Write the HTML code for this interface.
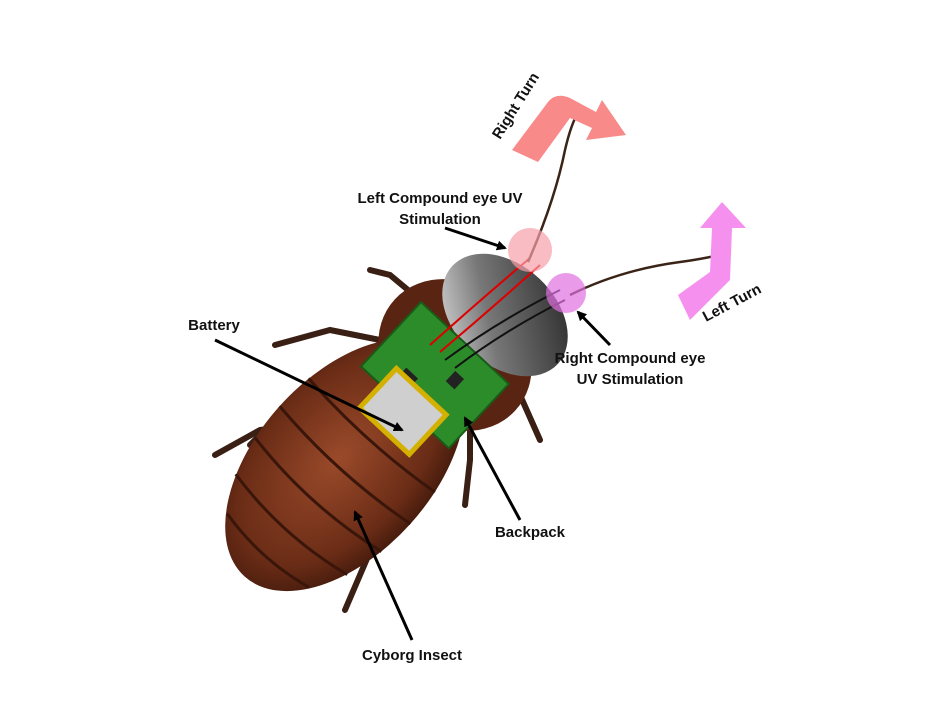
<!DOCTYPE html>
<html><head><meta charset="utf-8"><style>
html,body{margin:0;padding:0;background:#fff;}
svg{display:block;}
text{font-family:"Liberation Sans",sans-serif;font-weight:bold;font-size:15px;fill:#111;}
</style></head><body>
<svg width="934" height="701" viewBox="0 0 934 701" xmlns="http://www.w3.org/2000/svg">
<defs>
<marker id="ah" markerWidth="10" markerHeight="10" refX="8" refY="5" orient="auto" markerUnits="userSpaceOnUse">
<path d="M0,0 L10,5 L0,10 z" fill="#000"/></marker>
<radialGradient id="bod" cx="50%" cy="45%" r="60%"><stop offset="0" stop-color="#9a4a2a"/><stop offset="0.7" stop-color="#6a2c16"/><stop offset="1" stop-color="#3a160a"/></radialGradient>
<linearGradient id="shield" x1="0" y1="0" x2="1" y2="1"><stop offset="0" stop-color="#e8e8e8"/><stop offset="0.4" stop-color="#777"/><stop offset="1" stop-color="#222"/></linearGradient>
</defs>
<g stroke="#3a1f14" stroke-width="6" fill="none" stroke-linecap="round">
<path d="M420,300 L390,275 L370,270"/>
<path d="M380,340 L330,330 L275,345"/>
<path d="M350,380 L300,395 L250,445"/>
<path d="M330,420 L260,430 L215,455"/>
<path d="M320,460 L270,490 L245,510"/>
<path d="M480,390 L520,395 L540,440"/>
<path d="M470,420 L470,460 L465,505"/>
<path d="M400,490 L375,540 L345,610"/>
</g>
<g transform="translate(345,465) rotate(-48)">
<ellipse cx="0" cy="0" rx="150" ry="88" fill="url(#bod)"/>
<g stroke="#3a160a" stroke-width="3" fill="none">
<path d="M-40,-85 Q-55,0 -40,85"/><path d="M-80,-75 Q-95,0 -80,75"/><path d="M-115,-55 Q-127,0 -115,55"/><path d="M0,-88 Q-12,0 0,88"/><path d="M40,-85 Q30,0 40,85"/>
</g>
</g>
<g transform="translate(455,355) rotate(-47)">
<ellipse cx="0" cy="0" rx="70" ry="82" fill="#5a2412"/>
</g>
<g transform="translate(505,315) rotate(-47)">
<ellipse cx="0" cy="0" rx="50" ry="72" fill="url(#shield)"/>
</g>
<g transform="translate(435,378) rotate(-47)">
<rect x="-42" y="-62" width="88" height="120" fill="#2d8c2a" stroke="#1a5a18" stroke-width="2"/>
<rect x="-28" y="-28" width="16" height="16" fill="#222"/>
<rect x="5" y="10" width="14" height="12" fill="#222"/>
</g>
<g transform="translate(405,412) rotate(-47)">
<rect x="-28" y="-36" width="54" height="68" fill="#cfcfcf" stroke="#d4b000" stroke-width="5"/>
</g>
<g fill="none" stroke-width="2">
<path d="M430,345 Q480,300 530,258" stroke="#d00"/>
<path d="M440,352 Q490,310 540,265" stroke="#d00"/>
<path d="M445,360 Q500,320 560,290" stroke="#111"/>
<path d="M455,368 Q505,330 565,300" stroke="#111"/>
</g>
<g fill="none" stroke="#3a2418" stroke-width="2.5">
<path d="M528,262 Q555,200 565,150 Q572,120 580,110"/>
<path d="M570,295 Q620,270 680,262 Q710,258 730,252"/>
</g>
<circle cx="530" cy="250" r="22" fill="#f7a0a8" fill-opacity="0.7"/>
<circle cx="566" cy="293" r="20" fill="#e070e0" fill-opacity="0.7"/>
<path d="M512,150 L548,102 Q556,92 570,98 L596,112 L602,100 L626,135 L586,140 L592,128 L570,118 L538,162 z" fill="#f88a8a"/>
<path d="M678,295 L710,272 L712,228 L700,228 L722,202 L746,228 L732,228 L730,280 L690,320 z" fill="#f590ee"/>
<text x="440" y="203" text-anchor="middle">Left Compound eye UV</text>
<text x="440" y="224" text-anchor="middle">Stimulation</text>
<text x="630" y="363" text-anchor="middle">Right Compound eye</text>
<text x="630" y="384" text-anchor="middle">UV Stimulation</text>
<text x="214" y="330" text-anchor="middle">Battery</text>
<text x="530" y="537" text-anchor="middle">Backpack</text>
<text x="412" y="660" text-anchor="middle">Cyborg Insect</text>
<text transform="translate(500,140) rotate(-58)" x="0" y="0">Right Turn</text>
<text transform="translate(706,322) rotate(-28)" x="0" y="0">Left Turn</text>
<g stroke="#000" stroke-width="3" marker-end="url(#ah)">
<line x1="445" y1="228" x2="505" y2="248"/>
<line x1="610" y1="345" x2="578" y2="312"/>
<line x1="215" y1="340" x2="402" y2="430"/>
<line x1="520" y1="520" x2="465" y2="418"/>
<line x1="412" y1="640" x2="355" y2="512"/>
</g>
</svg>
</body></html>
